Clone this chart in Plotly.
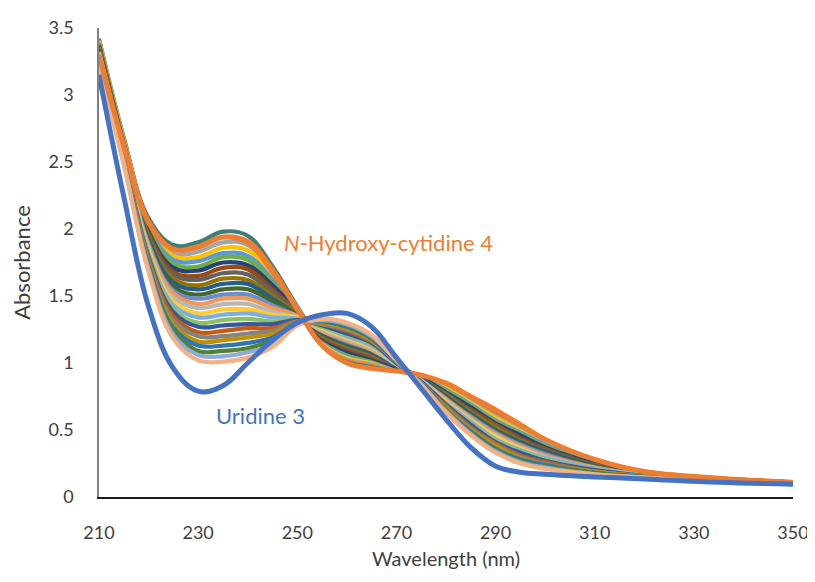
import plotly.graph_objects as go

# Wavelength grid (nm)
wavelength = [210, 215, 220, 225, 230, 235, 240, 245, 250, 255, 260, 265, 270,
              275, 280, 285, 290, 295, 300, 310, 320, 335, 350]

# N-Hydroxy-cytidine 4 (orange, thick)
hydroxycytidine = [3.30, 2.62, 2.05, 1.85, 1.87, 1.94, 1.90, 1.68, 1.40, 1.13, 1.00, 0.96, 0.94,
                   0.91, 0.85, 0.75, 0.65, 0.54, 0.43, 0.28, 0.19, 0.14, 0.11]

# Uridine 3 (blue, thick)
uridine = [3.15, 2.24, 1.42, 0.96, 0.79, 0.83, 1.00, 1.17, 1.30, 1.36, 1.37, 1.27, 1.04,
           0.81, 0.58, 0.37, 0.23, 0.185, 0.17, 0.15, 0.135, 0.11, 0.095]

# Intermediate spectra (top of band -> bottom of band)
intermediates = [
    [3.42, 2.68, 2.08, 1.88, 1.90, 1.98, 1.95, 1.72, 1.42, 1.15, 1.03, 0.99, 0.96, 0.90, 0.83, 0.73, 0.62, 0.52, 0.42, 0.27, 0.190, 0.140, 0.110],
    [3.41, 2.67, 2.06, 1.85, 1.86, 1.94, 1.91, 1.70, 1.41, 1.16, 1.04, 1.00, 0.96, 0.90, 0.82, 0.72, 0.61, 0.51, 0.41, 0.27, 0.188, 0.139, 0.110],
    [3.40, 2.66, 2.05, 1.82, 1.83, 1.90, 1.88, 1.67, 1.41, 1.16, 1.05, 1.01, 0.96, 0.90, 0.81, 0.71, 0.60, 0.50, 0.40, 0.26, 0.186, 0.139, 0.110],
    [3.40, 2.66, 2.03, 1.80, 1.79, 1.86, 1.84, 1.65, 1.40, 1.17, 1.06, 1.02, 0.97, 0.89, 0.81, 0.70, 0.59, 0.49, 0.39, 0.26, 0.185, 0.138, 0.109],
    [3.39, 2.65, 2.02, 1.77, 1.76, 1.82, 1.80, 1.62, 1.40, 1.18, 1.07, 1.03, 0.97, 0.89, 0.80, 0.69, 0.57, 0.48, 0.39, 0.25, 0.183, 0.138, 0.109],
    [3.38, 2.64, 2.00, 1.74, 1.72, 1.79, 1.77, 1.60, 1.39, 1.19, 1.08, 1.03, 0.97, 0.89, 0.79, 0.68, 0.56, 0.47, 0.38, 0.25, 0.181, 0.137, 0.109],
    [3.37, 2.63, 1.98, 1.71, 1.69, 1.75, 1.73, 1.58, 1.39, 1.19, 1.09, 1.04, 0.97, 0.89, 0.78, 0.67, 0.55, 0.46, 0.37, 0.25, 0.179, 0.136, 0.109],
    [3.36, 2.62, 1.97, 1.68, 1.65, 1.71, 1.70, 1.55, 1.38, 1.20, 1.11, 1.05, 0.98, 0.88, 0.77, 0.65, 0.54, 0.44, 0.36, 0.24, 0.177, 0.136, 0.109],
    [3.36, 2.62, 1.95, 1.66, 1.62, 1.67, 1.66, 1.53, 1.38, 1.21, 1.12, 1.06, 0.98, 0.88, 0.77, 0.64, 0.53, 0.43, 0.35, 0.24, 0.176, 0.135, 0.108],
    [3.35, 2.61, 1.94, 1.63, 1.58, 1.63, 1.62, 1.50, 1.37, 1.21, 1.13, 1.07, 0.98, 0.88, 0.76, 0.63, 0.52, 0.42, 0.34, 0.23, 0.174, 0.135, 0.108],
    [3.34, 2.60, 1.92, 1.60, 1.55, 1.59, 1.59, 1.48, 1.36, 1.22, 1.14, 1.08, 0.98, 0.88, 0.75, 0.62, 0.50, 0.41, 0.34, 0.23, 0.172, 0.134, 0.108],
    [3.33, 2.59, 1.90, 1.57, 1.51, 1.55, 1.55, 1.46, 1.36, 1.23, 1.15, 1.09, 0.99, 0.87, 0.74, 0.61, 0.49, 0.40, 0.33, 0.23, 0.170, 0.133, 0.108],
    [3.32, 2.58, 1.89, 1.54, 1.48, 1.51, 1.51, 1.43, 1.35, 1.24, 1.16, 1.10, 0.99, 0.87, 0.73, 0.60, 0.48, 0.39, 0.32, 0.22, 0.168, 0.133, 0.108],
    [3.32, 2.58, 1.87, 1.52, 1.44, 1.48, 1.48, 1.41, 1.35, 1.24, 1.17, 1.10, 0.99, 0.87, 0.73, 0.59, 0.47, 0.38, 0.31, 0.22, 0.167, 0.132, 0.107],
    [3.31, 2.57, 1.86, 1.49, 1.41, 1.44, 1.44, 1.38, 1.34, 1.25, 1.18, 1.11, 0.99, 0.87, 0.72, 0.58, 0.46, 0.37, 0.30, 0.21, 0.165, 0.132, 0.107],
    [3.30, 2.56, 1.84, 1.46, 1.37, 1.40, 1.40, 1.36, 1.34, 1.26, 1.19, 1.12, 1.00, 0.86, 0.71, 0.57, 0.45, 0.36, 0.29, 0.21, 0.163, 0.131, 0.107],
    [3.29, 2.55, 1.82, 1.43, 1.34, 1.36, 1.37, 1.34, 1.33, 1.27, 1.20, 1.13, 1.00, 0.86, 0.70, 0.56, 0.43, 0.35, 0.29, 0.21, 0.161, 0.130, 0.107],
    [3.28, 2.54, 1.81, 1.40, 1.30, 1.32, 1.33, 1.31, 1.32, 1.27, 1.21, 1.14, 1.00, 0.86, 0.69, 0.55, 0.42, 0.34, 0.28, 0.20, 0.159, 0.130, 0.107],
    [3.28, 2.54, 1.79, 1.38, 1.27, 1.28, 1.29, 1.29, 1.32, 1.28, 1.22, 1.15, 1.00, 0.86, 0.69, 0.54, 0.41, 0.33, 0.27, 0.20, 0.158, 0.129, 0.106],
    [3.27, 2.53, 1.78, 1.35, 1.23, 1.24, 1.26, 1.26, 1.31, 1.29, 1.24, 1.16, 1.01, 0.85, 0.68, 0.52, 0.40, 0.31, 0.26, 0.19, 0.156, 0.129, 0.106],
    [3.26, 2.52, 1.76, 1.32, 1.20, 1.20, 1.22, 1.24, 1.31, 1.29, 1.25, 1.17, 1.01, 0.85, 0.67, 0.51, 0.39, 0.30, 0.25, 0.19, 0.154, 0.128, 0.106],
    [3.25, 2.51, 1.74, 1.29, 1.16, 1.17, 1.19, 1.22, 1.30, 1.30, 1.26, 1.17, 1.01, 0.85, 0.66, 0.50, 0.38, 0.29, 0.24, 0.19, 0.152, 0.127, 0.106],
    [3.24, 2.50, 1.73, 1.26, 1.13, 1.13, 1.15, 1.19, 1.30, 1.31, 1.27, 1.18, 1.01, 0.85, 0.65, 0.49, 0.36, 0.28, 0.24, 0.18, 0.150, 0.127, 0.106],
    [3.24, 2.50, 1.71, 1.24, 1.09, 1.09, 1.11, 1.17, 1.29, 1.32, 1.28, 1.19, 1.02, 0.84, 0.65, 0.48, 0.35, 0.27, 0.23, 0.18, 0.149, 0.126, 0.105],
    [3.23, 2.49, 1.70, 1.21, 1.06, 1.05, 1.08, 1.14, 1.29, 1.32, 1.29, 1.20, 1.02, 0.84, 0.64, 0.47, 0.34, 0.26, 0.22, 0.17, 0.147, 0.126, 0.105],
    [3.22, 2.48, 1.68, 1.18, 1.02, 1.01, 1.04, 1.12, 1.28, 1.33, 1.30, 1.21, 1.02, 0.84, 0.63, 0.46, 0.33, 0.25, 0.21, 0.17, 0.145, 0.125, 0.105],
]

x_ticks = [210, 230, 250, 270, 290, 310, 330, 350]
y_ticks = [0, 0.5, 1, 1.5, 2, 2.5, 3, 3.5]
y_tick_labels = ["0", "0.5", "1", "1.5", "2", "2.5", "3", "3.5"]

palette = ["#3E7F7A", "#ED7D31", "#A5A5A5", "#FFC000", "#5B9BD5", "#70AD47",
           "#264478", "#9E480E", "#636363", "#997300", "#255E91", "#43682B",
           "#698ED0", "#F1975A", "#B7B7B7", "#FFCD33", "#7CAFDD", "#8CC168",
           "#335AA1", "#C55A11", "#848484", "#BF9000", "#2E75B6", "#548235",
           "#8FAADC", "#F4B183"]

fig = go.Figure()

for i, spec in enumerate(intermediates):
    fig.add_trace(go.Scatter(
        x=wavelength, y=spec, mode="lines",
        line=dict(color=palette[i % len(palette)], width=4.2, shape="spline", smoothing=1.1),
        hoverinfo="skip", showlegend=False))

fig.add_trace(go.Scatter(
    x=wavelength, y=hydroxycytidine, mode="lines",
    line=dict(color="#ED7D31", width=5, shape="spline", smoothing=1.1),
    name="N-Hydroxy-cytidine 4", showlegend=False))

fig.add_trace(go.Scatter(
    x=wavelength, y=uridine, mode="lines",
    line=dict(color="#4472C4", width=5, shape="spline", smoothing=1.1),
    name="Uridine 3", showlegend=False))

font_family = "Lato, 'Open Sans', 'Liberation Sans', sans-serif"

# The page body adds an 8px offset; the figure size/margins compensate so the
# plot area lands where the reference has it.
fig.update_layout(
    width=807, height=566,
    margin=dict(l=91, r=22, t=20, b=77, autoexpand=False),
    plot_bgcolor="white", paper_bgcolor="white",
    showlegend=False,
    font=dict(family=font_family, color="#404040", size=18),
    xaxis=dict(
        range=[210, 350], tickvals=x_ticks, ticktext=[str(v) for v in x_ticks],
        showgrid=False, zeroline=False, showline=True, linecolor="#1a1a1a", linewidth=1.5,
        ticks="", ticklabelstandoff=19, automargin=True, ticklabeloverflow="allow",
        tickfont=dict(size=18, color="#404040"),
        title=dict(text="Wavelength (nm)", font=dict(size=20, color="#404040"), standoff=10),
    ),
    yaxis=dict(
        range=[0, 3.5], tickvals=y_ticks, ticktext=y_tick_labels,
        showgrid=False, zeroline=False, showline=True, linecolor="#7f7f7f", linewidth=1.5,
        ticks="", ticklabelstandoff=20, automargin=True, ticklabeloverflow="allow",
        tickfont=dict(size=18, color="#404040"),
        title=dict(text="Absorbance", font=dict(size=22, color="#404040"), standoff=17),
    ),
    annotations=[
        dict(x=246.9, y=1.90, xref="x", yref="y", xanchor="left", yanchor="middle",
             text="<i>N</i>-Hydroxy-cytidine 4", showarrow=False,
             font=dict(size=22, color="#ED7D31", family=font_family)),
        dict(x=233.2, y=0.61, xref="x", yref="y", xanchor="left", yanchor="middle",
             text="Uridine 3", showarrow=False,
             font=dict(size=22, color="#4472C4", family=font_family)),
    ],
)

fig.write_html("out.html")
